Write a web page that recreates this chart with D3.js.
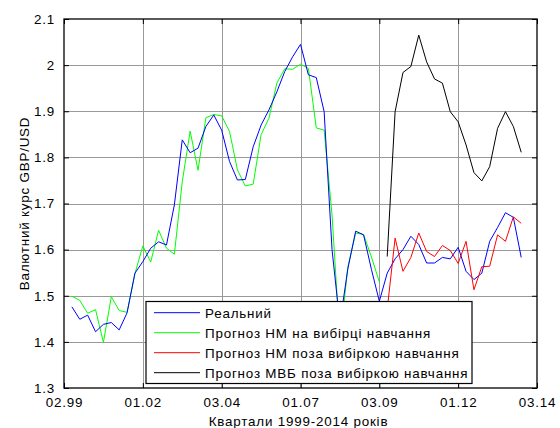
<!DOCTYPE html>
<html>
<head>
<meta charset="utf-8">
<script src="https://cdn.jsdelivr.net/npm/d3@7"></script>
<style>
  body { margin: 0; background: #fff; }
  svg text { font-family: "Liberation Sans", Arial, sans-serif; font-size: 13.4px; letter-spacing: 0.8px; fill: #000; }
</style>
</head>
<body>
<svg id="chart" width="560" height="428"></svg>
<script>
// quarter labels on the x axis (every 10 quarters)
var xTickPos = [0, 10, 20, 30, 40, 50, 60];
var xTickLabels = ["02.99", "01.02", "03.04", "01.07", "03.09", "01.12", "03.14"];
var yTicks = [1.3, 1.4, 1.5, 1.6, 1.7, 1.8, 1.9, 2.0, 2.1];

// real GBP/USD rate, quarters 1..58
var realStart = 1;
var realRate = [1.476, 1.449, 1.458, 1.422, 1.438, 1.442, 1.426, 1.463, 1.549, 1.574,
                1.603, 1.617, 1.610, 1.697, 1.838, 1.810, 1.820, 1.867, 1.892, 1.859,
                1.791, 1.751, 1.752, 1.823, 1.870, 1.903, 1.942, 1.986, 2.018, 2.045,
                1.979, 1.973, 1.899, 1.600, 1.440, 1.558, 1.640, 1.632, 1.557, 1.488,
                1.549, 1.580, 1.600, 1.629, 1.611, 1.571, 1.571, 1.583, 1.580, 1.605,
                1.553, 1.535, 1.549, 1.618, 1.648, 1.680, 1.670, 1.583];

// NN forecast on the training sample, quarters 1..40
var trainStart = 1;
var nnTrain = [1.499, 1.490, 1.462, 1.470, 1.399, 1.498, 1.468, 1.464, 1.548, 1.608,
               1.573, 1.642, 1.603, 1.590, 1.747, 1.857, 1.772, 1.886, 1.893, 1.890,
               1.856, 1.773, 1.738, 1.742, 1.849, 1.885, 1.961, 1.992, 1.991, 2.002,
               1.993, 1.864, 1.859, 1.675, 1.400, 1.562, 1.636, 1.633, 1.584, 1.530];

// out-of-sample forecasts, quarters 41..58
var testStart = 41;
var nnTest = [1.470, 1.625, 1.553, 1.583, 1.636, 1.596, 1.585, 1.609, 1.598, 1.570,
              1.618, 1.513, 1.563, 1.564, 1.632, 1.618, 1.671, 1.657];
var mvbTest = [1.585, 1.899, 1.984, 1.997, 2.065, 2.007, 1.970, 1.961, 1.899, 1.877,
               1.827, 1.767, 1.749, 1.780, 1.863, 1.899, 1.867, 1.811];

var legendNames = ["Реальний", "Прогноз НМ на вибірці навчання",
                   "Прогноз НМ поза вибіркою навчання", "Прогноз МВБ поза вибіркою навчання"];

drawChart();

function drawChart() {
    var svg = d3.select("#chart");
    var mLeft = 64, mRight = 537, mTop = 19, mBottom = 388;

    var x = d3.scaleLinear().domain([0, 60]).range([mLeft, mRight]);
    var y = d3.scaleLinear().domain([1.3, 2.1]).range([mBottom, mTop]);

    // grid
    var grid = svg.append("g");
    grid.selectAll("line.gx")
        .data(xTickPos.slice(1, -1))
        .enter().append("line")
        .attr("x1", function(d) { return Math.round(x(d)) + 0.5; })
        .attr("x2", function(d) { return Math.round(x(d)) + 0.5; })
        .attr("y1", mTop).attr("y2", mBottom)
        .style("stroke", "#999").style("stroke-width", 1);
    grid.selectAll("line.gy")
        .data(yTicks.slice(1, -1))
        .enter().append("line")
        .attr("y1", function(d) { return Math.round(y(d)) + 0.5; })
        .attr("y2", function(d) { return Math.round(y(d)) + 0.5; })
        .attr("x1", mLeft).attr("x2", mRight)
        .style("stroke", "#999").style("stroke-width", 1);

    // series
    var series = [
        { start: realStart, values: realRate, color: "#0000ff" },
        { start: trainStart, values: nnTrain, color: "#00ff00" },
        { start: testStart, values: nnTest, color: "#ff0000" },
        { start: testStart, values: mvbTest, color: "#000000" }
    ];

    var line = d3.line()
        .x(function(d) { return x(d[0]); })
        .y(function(d) { return y(d[1]); });

    // green first so blue sits on top
    [1, 0, 2, 3].forEach(function(k) {
        var s = series[k];
        var pts = s.values.map(function(v, i) { return [s.start + i, v]; });
        svg.append("path")
            .datum(pts)
            .attr("d", line)
            .style("fill", "none")
            .style("stroke", s.color)
            .style("stroke-width", 1);
    });

    // axes: ticks pointing inward, on all four sides
    var axisG = svg.append("g");
    axisG.append("g")
        .attr("transform", "translate(0," + mBottom + ")")
        .call(d3.axisBottom(x).tickValues(xTickPos).tickSize(-5).tickPadding(9)
            .tickFormat(function(d, i) { return xTickLabels[i]; }));
    axisG.append("g")
        .attr("transform", "translate(0," + mTop + ")")
        .call(d3.axisTop(x).tickValues(xTickPos).tickSize(-5).tickFormat(""));
    axisG.append("g")
        .attr("transform", "translate(" + mLeft + ",0)")
        .call(d3.axisLeft(y).tickValues(yTicks).tickSize(-5).tickPadding(9)
            .tickFormat(d3.format("~g")));
    axisG.append("g")
        .attr("transform", "translate(" + mRight + ",0)")
        .call(d3.axisRight(y).tickValues(yTicks).tickSize(-5).tickFormat(""));
    axisG.selectAll(".domain").remove();
    axisG.selectAll("line").style("stroke", "#000");
    axisG.selectAll("text")
        .style("font-family", "'Liberation Sans', Arial, sans-serif")
        .style("font-size", "13.4px")
        .style("fill", "#000");

    svg.append("rect")
        .attr("x", mLeft).attr("y", mTop)
        .attr("width", mRight - mLeft).attr("height", mBottom - mTop)
        .style("fill", "none").style("stroke", "#000").style("stroke-width", 1.3);

    // axis titles
    svg.append("text")
        .attr("x", (mLeft + mRight) / 2 - 2).attr("y", 426)
        .attr("text-anchor", "middle")
        .text("Квартали 1999-2014 років");
    svg.append("text")
        .attr("transform", "translate(28.5," + ((mTop + mBottom) / 2) + ") rotate(-90)")
        .attr("text-anchor", "middle")
        .text("Валютний курс GBP/USD");

    // legend
    var lg = svg.append("g");
    lg.append("rect")
        .attr("x", 146).attr("y", 301.5).attr("width", 326).attr("height", 82)
        .style("fill", "#fff").style("stroke", "#000").style("stroke-width", 1.2);
    var rows = lg.selectAll("g.row")
        .data(series)
        .enter().append("g")
        .attr("transform", function(d, i) { return "translate(0," + (312.7 + i * 20) + ")"; });
    rows.append("line")
        .attr("x1", 154).attr("x2", 200)
        .style("stroke", function(d) { return d.color; })
        .style("stroke-width", 1);
    rows.append("text")
        .attr("x", 205).attr("dy", "0.36em")
        .text(function(d, i) { return legendNames[i]; });
}
</script>
</body>
</html>
